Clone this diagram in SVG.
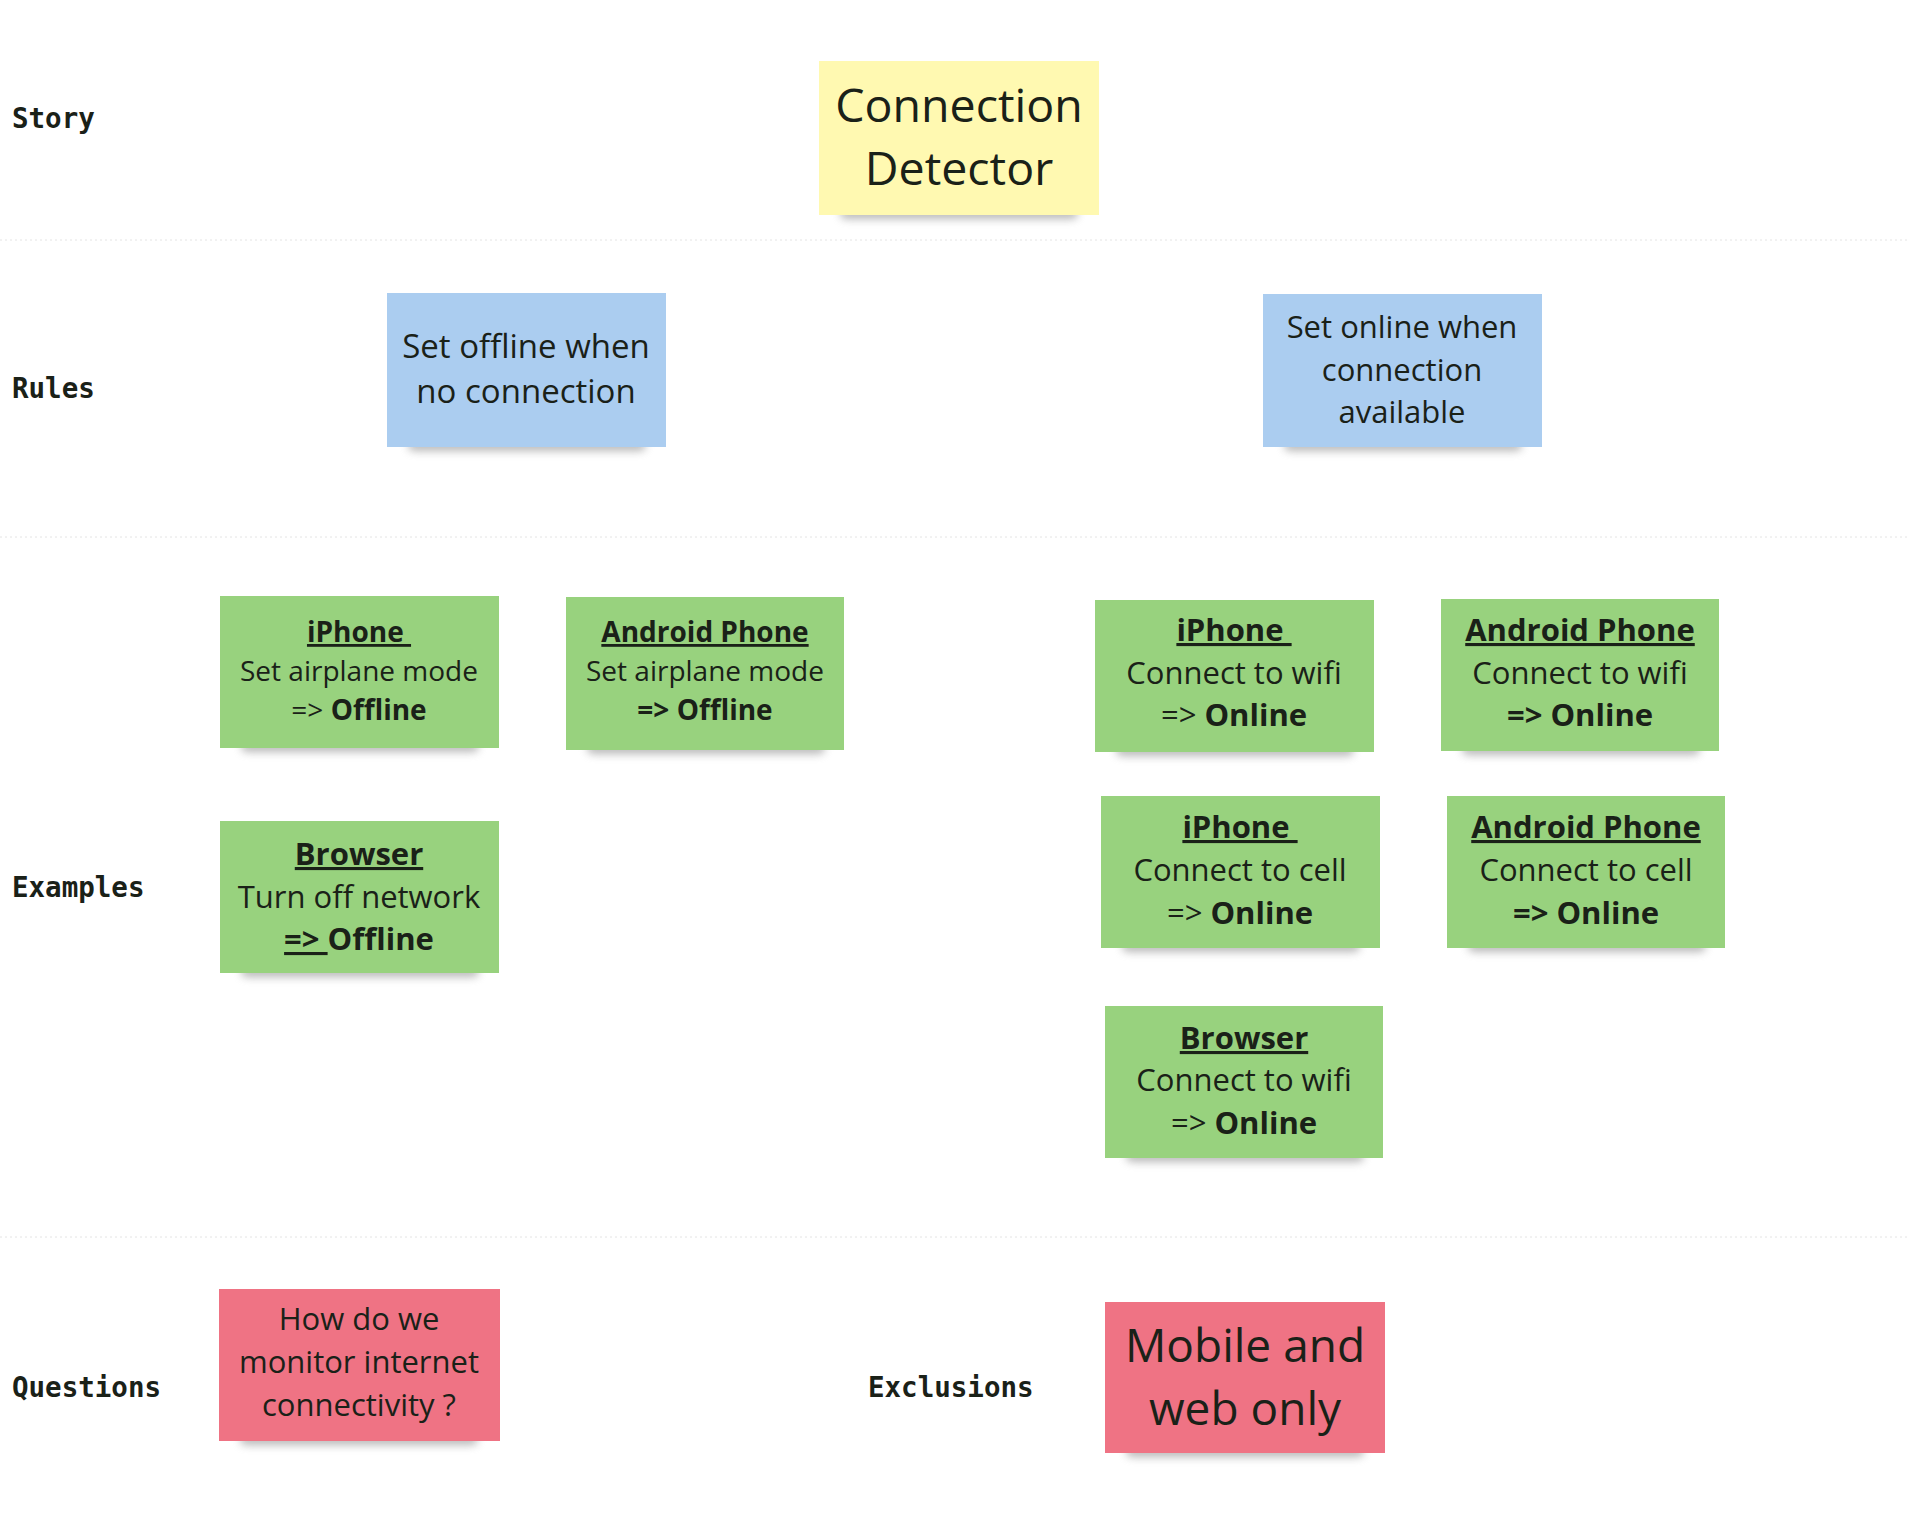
<svg xmlns="http://www.w3.org/2000/svg" width="1908" height="1528" viewBox="0 0 1908 1528">
<defs>
<filter id="sh" x="-20%" y="-100%" width="140%" height="300%"><feGaussianBlur stdDeviation="4"/></filter>
<style>
.lbl{font-family:"DejaVu Sans Mono","Liberation Mono",monospace;font-weight:bold;font-size:27.5px;fill:#1a2118}
.t{font-family:"Open Sans","Noto Sans",sans-serif;fill:#1a2118;text-anchor:middle}
.b{font-weight:bold}
.u{text-decoration:underline}
.shadow{fill:#8a8a8a;opacity:0.6;filter:url(#sh)}
.sep{stroke:#e4e4e4;stroke-width:1;stroke-dasharray:2 3}
.y{fill:#fff9b1}.bl{fill:#abcdf0}.g{fill:#98d27e}.r{fill:#ef7384}
</style>
</defs>
<rect width="1908" height="1528" fill="#ffffff"/>
<g id="separators">
<line class="sep" x1="0" y1="240" x2="1908" y2="240"/>
<line class="sep" x1="0" y1="537" x2="1908" y2="537"/>
<line class="sep" x1="0" y1="1237" x2="1908" y2="1237"/>
</g>
<g id="labels">
<text class="lbl" x="12" y="128">Story</text>
<text class="lbl" x="12" y="398">Rules</text>
<text class="lbl" x="12" y="897">Examples</text>
<text class="lbl" x="12" y="1397">Questions</text>
<text class="lbl" x="868" y="1397">Exclusions</text>
</g>
<g id="connectors"></g>
<g id="story">
<rect class="shadow" x="840" y="207" width="238" height="12" rx="6"/>
<rect class="y" x="819" y="61" width="280" height="154"/>
<text class="t" x="959" y="122" font-size="46.5">Connection</text>
<text class="t" x="959" y="185" font-size="46.5">Detector</text>
</g>
<g id="rule-offline">
<rect class="shadow" x="408" y="439" width="238" height="12" rx="6"/>
<rect class="bl" x="387" y="293" width="279" height="154"/>
<text class="t" x="526" y="358" font-size="33">Set offline when</text>
<text class="t" x="526" y="403" font-size="33">no connection</text>
</g>
<g id="rule-online">
<rect class="shadow" x="1284" y="439" width="238" height="12" rx="6"/>
<rect class="bl" x="1263" y="294" width="279" height="153"/>
<text class="t" x="1402" y="338" font-size="31">Set online when</text>
<text class="t" x="1402" y="381" font-size="31">connection</text>
<text class="t" x="1402" y="423" font-size="31">available</text>
</g>
<g id="ex-iphone-offline">
<rect class="shadow" x="241" y="740" width="238" height="12" rx="6"/>
<rect class="g" x="220" y="596" width="279" height="152"/>
<text class="t" x="359" y="642" font-size="28"><tspan class="b u">iPhone&#160;</tspan></text>
<text class="t" x="359" y="681" font-size="28">Set airplane mode</text>
<text class="t" x="359" y="720" font-size="28">=&gt; <tspan class="b">Offline</tspan></text>
</g>
<g id="ex-android-offline">
<rect class="shadow" x="587" y="742" width="238" height="12" rx="6"/>
<rect class="g" x="566" y="597" width="278" height="153"/>
<text class="t" x="705" y="642" font-size="28"><tspan class="b u">Android Phone</tspan></text>
<text class="t" x="705" y="681" font-size="28">Set airplane mode</text>
<text class="t b" x="705" y="720" font-size="28">=&gt; Offline</text>
</g>
<g id="ex-browser-offline">
<rect class="shadow" x="241" y="965" width="238" height="12" rx="6"/>
<rect class="g" x="220" y="821" width="279" height="152"/>
<text class="t" x="359" y="865" font-size="31"><tspan class="b u">Browser</tspan></text>
<text class="t" x="359" y="908" font-size="31">Turn off network</text>
<text class="t b" x="359" y="950" font-size="31"><tspan class="u">=&gt;&#160;</tspan>Offline</text>
</g>
<g id="ex-iphone-wifi">
<rect class="shadow" x="1116" y="744" width="238" height="12" rx="6"/>
<rect class="g" x="1095" y="600" width="279" height="152"/>
<text class="t" x="1234" y="641" font-size="31"><tspan class="b u">iPhone&#160;</tspan></text>
<text class="t" x="1234" y="684" font-size="31">Connect to wifi</text>
<text class="t" x="1234" y="726" font-size="31">=&gt; <tspan class="b">Online</tspan></text>
</g>
<g id="ex-android-wifi">
<rect class="shadow" x="1462" y="743" width="238" height="12" rx="6"/>
<rect class="g" x="1441" y="599" width="278" height="152"/>
<text class="t" x="1580" y="641" font-size="31"><tspan class="b u">Android Phone</tspan></text>
<text class="t" x="1580" y="684" font-size="31">Connect to wifi</text>
<text class="t b" x="1580" y="726" font-size="31">=&gt; Online</text>
</g>
<g id="ex-iphone-cell">
<rect class="shadow" x="1122" y="940" width="238" height="12" rx="6"/>
<rect class="g" x="1101" y="796" width="279" height="152"/>
<text class="t" x="1240" y="838" font-size="31"><tspan class="b u">iPhone&#160;</tspan></text>
<text class="t" x="1240" y="881" font-size="31">Connect to cell</text>
<text class="t" x="1240" y="924" font-size="31">=&gt; <tspan class="b">Online</tspan></text>
</g>
<g id="ex-android-cell">
<rect class="shadow" x="1468" y="940" width="238" height="12" rx="6"/>
<rect class="g" x="1447" y="796" width="278" height="152"/>
<text class="t" x="1586" y="838" font-size="31"><tspan class="b u">Android Phone</tspan></text>
<text class="t" x="1586" y="881" font-size="31">Connect to cell</text>
<text class="t b" x="1586" y="924" font-size="31">=&gt; Online</text>
</g>
<g id="ex-browser-online">
<rect class="shadow" x="1126" y="1150" width="238" height="12" rx="6"/>
<rect class="g" x="1105" y="1006" width="278" height="152"/>
<text class="t" x="1244" y="1049" font-size="31"><tspan class="b u">Browser</tspan></text>
<text class="t" x="1244" y="1091" font-size="31">Connect to wifi</text>
<text class="t" x="1244" y="1134" font-size="31">=&gt; <tspan class="b">Online</tspan></text>
</g>
<g id="question">
<rect class="shadow" x="240" y="1433" width="238" height="12" rx="6"/>
<rect class="r" x="219" y="1289" width="281" height="152"/>
<text class="t" x="359" y="1330" font-size="31">How do we</text>
<text class="t" x="359" y="1373" font-size="31">monitor internet</text>
<text class="t" x="359" y="1416" font-size="31">connectivity ?</text>
</g>
<g id="exclusion">
<rect class="shadow" x="1126" y="1445" width="238" height="12" rx="6"/>
<rect class="r" x="1105" y="1302" width="280" height="151"/>
<text class="t" x="1245" y="1362" font-size="46">Mobile and</text>
<text class="t" x="1245" y="1425" font-size="46">web only</text>
</g>
</svg>
